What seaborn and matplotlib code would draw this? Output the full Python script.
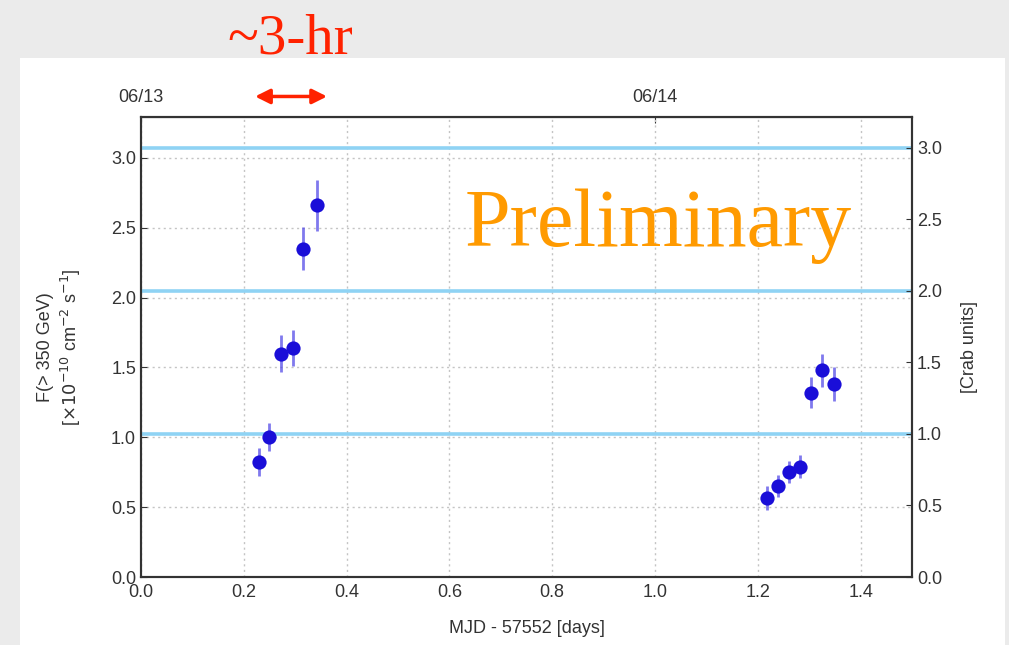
import matplotlib
matplotlib.use("Agg")
import matplotlib.pyplot as plt
import matplotlib.patches as mpatches
import seaborn as sns
import numpy as np
import pandas as pd

# light curve values
mjd_offset = [0.229, 0.250, 0.272, 0.295, 0.315, 0.342,
              1.217, 1.239, 1.260, 1.282, 1.303, 1.324, 1.348]
flux = [0.82, 1.00, 1.60, 1.64, 2.35, 2.66,
        0.565, 0.65, 0.75, 0.79, 1.32, 1.48, 1.38]
flux_err = [0.10, 0.10, 0.13, 0.13, 0.155, 0.185,
            0.085, 0.08, 0.08, 0.08, 0.11, 0.12, 0.12]

crab_flux = 1.024          # 1 Crab in 1e-10 cm^-2 s^-1
crab_levels = [1, 2, 3]
date_ticks = [0.0, 1.0]
date_labels = ["06/13", "06/14"]

df = pd.DataFrame({"t": mjd_offset, "flux": flux, "err": flux_err})

sns.set_style("white")
plt.rcParams["font.family"] = ["Liberation Sans", "DejaVu Sans"]

fig = plt.figure(figsize=(10.09, 6.45), dpi=100)
fig.patch.set_facecolor("#ebebeb")
# white slide panel
fig.add_artist(mpatches.Rectangle((20 / 1009, 0), 985 / 1009, 1 - 58 / 645,
                                  transform=fig.transFigure, facecolor="white",
                                  edgecolor="none", zorder=0))

ax = fig.add_axes([0.1397, 0.1054, 0.7642, 0.7132])
ax.set_facecolor("white")

ymax = 3.293
ax.set_xlim(0, 1.5)
ax.set_ylim(0, ymax)

# Crab unit reference lines
for c in crab_levels:
    ax.axhline(c * crab_flux, color="#8fd3f4", lw=2.6, zorder=2)

ax.errorbar(df["t"], df["flux"], yerr=df["err"], fmt="none",
            ecolor="#4a40e6", elinewidth=2, alpha=0.7, capsize=0, zorder=3)
sns.scatterplot(data=df, x="t", y="flux", ax=ax, color="#1a0ed8", s=105,
                edgecolor="#1a0ed8", linewidth=0, zorder=4)

ax.set_xticks(np.arange(0, 1.41, 0.2))
ax.set_yticks(np.arange(0, 3.01, 0.5))
ax.grid(True, color="#c4c4c4", linestyle=(0, (1.5, 2.5)), lw=1.0)
ax.tick_params(direction="in", length=4, labelsize=13, colors="#333333",
               top=False, right=False)
ax.tick_params(axis="x", pad=5)
for s in ax.spines.values():
    s.set_color("#333333")
    s.set_linewidth(1.5)

ax.set_xlabel("MJD - 57552 [days]", fontsize=13, color="#333333", labelpad=14)
ax.set_ylabel("F(> 350 GeV)\n[$\\times10^{-10}$ cm$^{-2}$ s$^{-1}$]",
              fontsize=13, color="#333333", labelpad=20, linespacing=1.3)

# right axis in Crab units
ax2 = ax.twinx()
ax2.set_ylim(0, ymax / crab_flux)
ax2.set_yticks(np.arange(0, 3.01, 0.5))
ax2.tick_params(direction="in", length=4, labelsize=13, colors="#333333")
ax2.set_ylabel("[Crab units]", fontsize=13, color="#333333", labelpad=14)
for s in ax2.spines.values():
    s.set_color("#333333")
    s.set_linewidth(1.5)

# calendar dates on top
top = ax.secondary_xaxis("top")
top.set_xticks(date_ticks)
top.set_xticklabels(date_labels)
top.tick_params(direction="in", length=4, labelsize=13, colors="#333333", pad=8)

# ~3-hr marker
ax.annotate("", xy=(0.222, 3.44), xytext=(0.362, 3.44), xycoords="data",
            annotation_clip=False,
            arrowprops=dict(arrowstyle="<|-|>", color="#ff2200", lw=2.5,
                            mutation_scale=22, shrinkA=0, shrinkB=0))
fig.text(290 / 1009, 1 - 54 / 645, "~3-hr", ha="center", va="baseline",
         fontsize=41, color="#ff2200", family=["Liberation Serif", "DejaVu Serif"])

fig.text(465 / 1009, 1 - 246 / 645, "Preliminary", ha="left", va="baseline",
         fontsize=59, color="#ff9a00", family=["Liberation Serif", "DejaVu Serif"])

fig.savefig("out.png", dpi=100, facecolor=fig.get_facecolor())
